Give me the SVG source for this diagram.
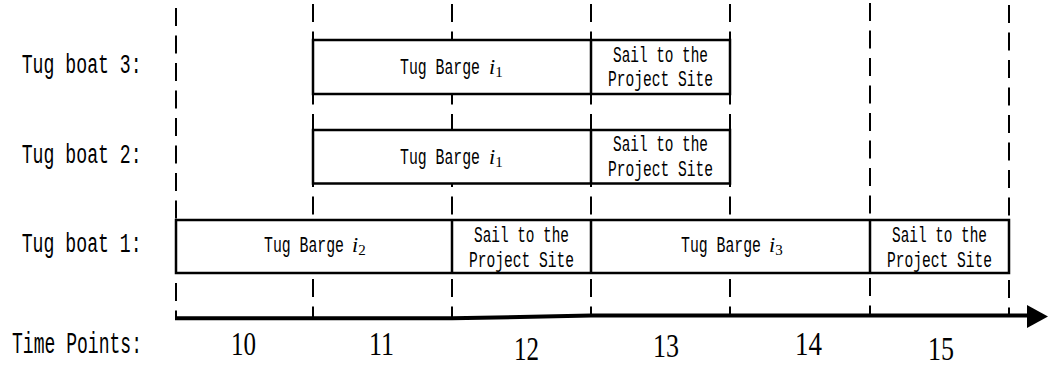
<svg xmlns="http://www.w3.org/2000/svg" width="1049" height="368" viewBox="0 0 1049 368">
<defs>
<style>
.grid{stroke:#000;stroke-width:2;stroke-dasharray:18 9.5;fill:none}
.box{fill:#fff;stroke:#000;stroke-width:2.5}
.div{stroke:#000;stroke-width:2.5}
.lbl{font-family:"Liberation Mono",monospace;font-size:27px;fill:#000}
.bt{font-family:"Liberation Mono",monospace;font-size:22px;fill:#000}
.it{font-family:"Liberation Serif",serif;font-style:italic;font-size:22px}
.sub{font-family:"Liberation Serif",serif;font-style:normal;font-size:15px}
.num{font-family:"Liberation Serif",serif;font-size:34px;fill:#000}
</style>
</defs>
<rect width="1049" height="368" fill="#fff"/>
<g id="connectors">
<line class="grid" x1="176" y1="8" x2="176" y2="317"/>
<line class="grid" x1="313" y1="4" x2="313" y2="317"/>
<line class="grid" x1="452" y1="4" x2="452" y2="317"/>
<line class="grid" x1="591" y1="4" x2="591" y2="317"/>
<line class="grid" x1="730" y1="4" x2="730" y2="317"/>
<line class="grid" x1="870" y1="3" x2="870" y2="317"/>
<line class="grid" x1="1009" y1="5" x2="1009" y2="317"/>
<path d="M175,318.3 L452,318.3 L591,315.5 L1028,315.5" fill="none" stroke="#000" stroke-width="4"/>
<polygon points="1027,305 1048,316.5 1027,328" fill="#000"/>
</g>
<g id="labels">
<text class="lbl" x="21.7" y="73" textLength="120" lengthAdjust="spacingAndGlyphs">Tug boat 3:</text>
<text class="lbl" x="21.7" y="162.5" textLength="120" lengthAdjust="spacingAndGlyphs">Tug boat 2:</text>
<text class="lbl" x="21.7" y="252" textLength="120" lengthAdjust="spacingAndGlyphs">Tug boat 1:</text>
<text class="lbl" x="12" y="353.3" textLength="130" lengthAdjust="spacingAndGlyphs" style="font-size:29px">Time Points:</text>
</g>
<g id="tug3">
<rect class="box" x="313" y="40" width="417" height="54"/>
<line class="div" x1="591" y1="40" x2="591" y2="94"/>
<text class="bt" x="400" y="74"><tspan textLength="80" lengthAdjust="spacingAndGlyphs">Tug Barge</tspan><tspan class="it" x="489">i</tspan><tspan class="sub" dy="3">1</tspan></text>
<text class="bt" x="613" y="61.5" textLength="95" lengthAdjust="spacingAndGlyphs">Sail to the</text>
<text class="bt" x="608" y="86" textLength="105" lengthAdjust="spacingAndGlyphs">Project Site</text>
</g>
<g id="tug2">
<rect class="box" x="313" y="130" width="417" height="53.5"/>
<line class="div" x1="591" y1="130" x2="591" y2="183.5"/>
<text class="bt" x="400" y="163.5"><tspan textLength="80" lengthAdjust="spacingAndGlyphs">Tug Barge</tspan><tspan class="it" x="489">i</tspan><tspan class="sub" dy="3">1</tspan></text>
<text class="bt" x="613" y="151" textLength="95" lengthAdjust="spacingAndGlyphs">Sail to the</text>
<text class="bt" x="608" y="175.5" textLength="105" lengthAdjust="spacingAndGlyphs">Project Site</text>
</g>
<g id="tug1">
<rect class="box" x="176" y="220" width="833" height="53"/>
<line class="div" x1="452" y1="220" x2="452" y2="273"/>
<line class="div" x1="591" y1="220" x2="591" y2="273"/>
<line class="div" x1="870" y1="220" x2="870" y2="273"/>
<text class="bt" x="264" y="252"><tspan textLength="80" lengthAdjust="spacingAndGlyphs">Tug Barge</tspan><tspan class="it" x="352">i</tspan><tspan class="sub" dy="3">2</tspan></text>
<text class="bt" x="474" y="241.7" textLength="95" lengthAdjust="spacingAndGlyphs">Sail to the</text>
<text class="bt" x="469" y="266.5" textLength="105" lengthAdjust="spacingAndGlyphs">Project Site</text>
<text class="bt" x="681" y="252"><tspan textLength="80" lengthAdjust="spacingAndGlyphs">Tug Barge</tspan><tspan class="it" x="769">i</tspan><tspan class="sub" dy="3">3</tspan></text>
<text class="bt" x="892" y="241.7" textLength="95" lengthAdjust="spacingAndGlyphs">Sail to the</text>
<text class="bt" x="887" y="266.5" textLength="105" lengthAdjust="spacingAndGlyphs">Project Site</text>
</g>
<g id="timepoints">
<text class="num" x="231" y="355" textLength="25" lengthAdjust="spacingAndGlyphs">10</text>
<text class="num" x="369" y="355" textLength="25" lengthAdjust="spacingAndGlyphs">11</text>
<text class="num" x="514" y="360" textLength="25" lengthAdjust="spacingAndGlyphs">12</text>
<text class="num" x="653" y="357" textLength="26" lengthAdjust="spacingAndGlyphs">13</text>
<text class="num" x="795" y="355" textLength="27" lengthAdjust="spacingAndGlyphs">14</text>
<text class="num" x="928" y="360" textLength="26" lengthAdjust="spacingAndGlyphs">15</text>
</g>
</svg>
